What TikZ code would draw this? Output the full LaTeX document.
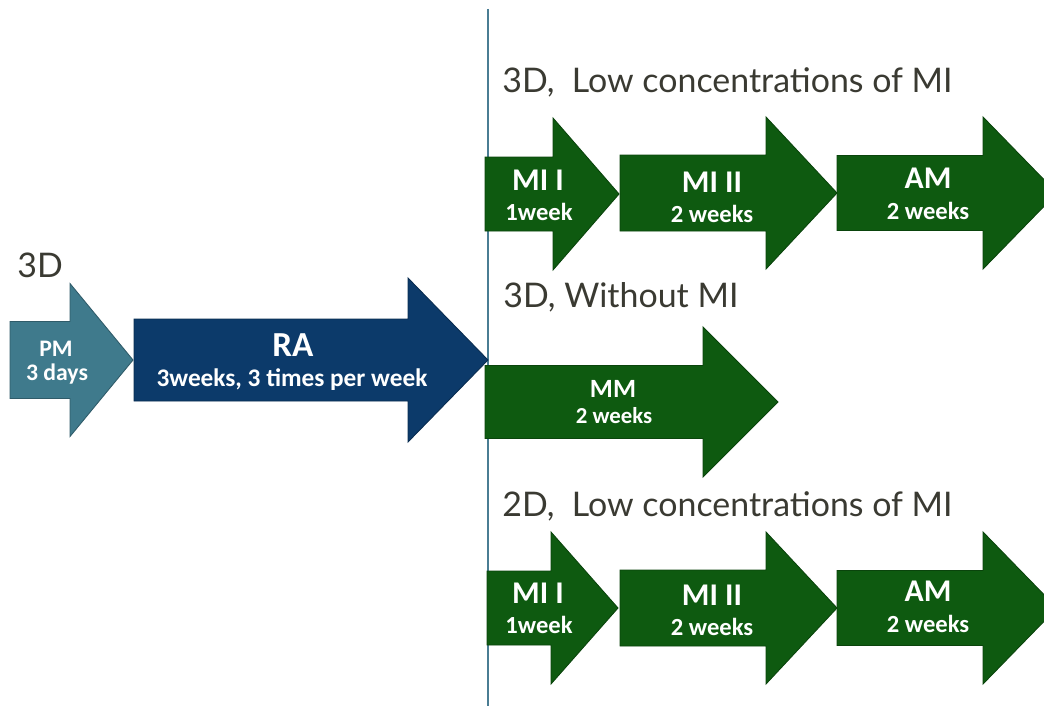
\documentclass[tikz,border=0pt]{standalone}
\usepackage{fontspec}
\setmainfont{Lato}
\newfontfamily\stagefont{Carlito}
\usetikzlibrary{positioning}

\definecolor{pmteal}{HTML}{3F7A8C}
\definecolor{rablue}{HTML}{0C3A6A}
\definecolor{stagegreen}{HTML}{0E5A10}
\definecolor{rulecol}{HTML}{4A7D93}
\definecolor{headgray}{HTML}{3A3A32}

% colour, tail x, head x, tip x, mid y, body half, head half
\newcommand{\stagearrow}[7]{%
  \filldraw[fill=#1,draw=#1!75!black,line width=.5pt] (#2,#5-#6) -- (#3,#5-#6) -- (#3,#5-#7) -- (#4,#5)
    -- (#3,#5+#7) -- (#3,#5+#6) -- (#2,#5+#6) -- cycle;}

\begin{document}
\begin{tikzpicture}[x=0.02cm,y=-0.02cm,
  hdr/.style={text=headgray,font=\fontsize{19.3}{22}\selectfont,anchor=base west,inner sep=0pt},
  ttl/.style={text=white,font=\stagefont\bfseries\fontsize{18}{20}\selectfont,anchor=base,inner sep=0pt},
  dur/.style={text=white,font=\stagefont\bfseries\fontsize{14}{16}\selectfont,anchor=base,inner sep=0pt}]
  \useasboundingbox (0,0) rectangle (1044,706);
  \clip (0,0) rectangle (1044,706);

  % divider
  \draw[rulecol,line width=1.4pt] (488,9) -- (488,706);

  % left part
  \node[hdr] (h3d) at (17,277) {3D};
  \stagearrow{pmteal}{10}{70}{133}{360}{38.5}{76.5}
  \stagearrow{rablue}{134}{408}{488}{360}{41}{82}
  \node[ttl,font=\stagefont\bfseries\fontsize{13.5}{15}\selectfont] (pm) at (56,356) {PM};
  \node[dur,font=\stagefont\bfseries\fontsize{13.5}{15}\selectfont] (pmdays) at (57,380) {3 days};
  \node[ttl,font=\stagefont\bfseries\fontsize{20}{22}\selectfont] (ra) at (293,356) {RA};
  \node[dur,font=\stagefont\bfseries\fontsize{14.4}{16}\selectfont] (raweeks) at (292,386) {3weeks, 3 times per week};

  % 3D, low MI
  \node[hdr] (hlow) at (502,92) {3D,~ Low concentrations of MI};
  \stagearrow{stagegreen}{485}{553}{619}{194}{37}{76}
  \stagearrow{stagegreen}{620}{766}{837}{193}{38}{76}
  \stagearrow{stagegreen}{837}{983}{1057}{193}{37.5}{76}
  \node[ttl] (mia) at (538,190) {MI I};
  \node[dur] (miaw) at (539,220) {1week};
  \node[ttl] (miia) at (712,192) {MI II};
  \node[dur] (miiaw) at (712,222) {2 weeks};
  \node[ttl] (ama) at (928,188) {AM};
  \node[dur] (amaw) at (928,219) {2 weeks};

  % 3D, without MI
  \node[hdr] (hnone) at (503,307) {3D, Without MI};
  \stagearrow{stagegreen}{485}{703}{778}{402}{36.5}{75}
  \node[ttl,font=\stagefont\bfseries\fontsize{15}{17}\selectfont] (mm) at (613,397) {MM};
  \node[dur,font=\stagefont\bfseries\fontsize{13}{15}\selectfont] (mmw) at (614,423) {2 weeks};

  % 2D, low MI
  \node[hdr] (h2d) at (502,516) {2D,~ Low concentrations of MI};
  \stagearrow{stagegreen}{487}{551}{618}{608}{37}{76}
  \stagearrow{stagegreen}{620}{766}{837}{608}{38}{76}
  \stagearrow{stagegreen}{837}{983}{1057}{608}{37.5}{76}
  \node[ttl] (mib) at (538,603) {MI I};
  \node[dur] (mibw) at (539,633) {1week};
  \node[ttl] (miib) at (712,605) {MI II};
  \node[dur] (miibw) at (712,635) {2 weeks};
  \node[ttl] (amb) at (928,601) {AM};
  \node[dur] (ambw) at (928,632) {2 weeks};
\end{tikzpicture}
\end{document}
